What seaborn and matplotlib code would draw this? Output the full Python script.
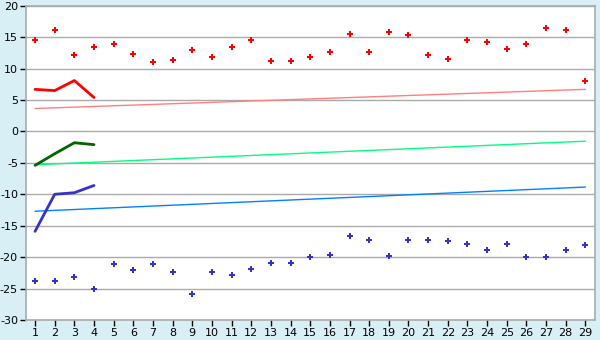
import matplotlib
matplotlib.use("Agg")
import matplotlib.pyplot as plt
import seaborn as sns
import numpy as np
import pandas as pd

days = list(range(1, 30))
red_points = [14.6, 16.2, 12.1, 13.4, 13.85, 12.3, 11.0, 11.3, 12.9, 11.8, 13.4, 14.6, 11.15, 11.15,
              11.8, 12.6, 15.45, 12.6, 15.8, 15.3, 12.1, 11.5, 14.6, 14.2, 13.05, 13.85, 16.4, 16.1, 8.1]
blue_points = [-23.85, -23.85, -23.2, -25.1, -21.15, -22.1, -21.15, -22.4, -25.9, -22.4, -22.9, -21.9, -21.0, -21.0,
               -20.0, -19.7, -16.7, -17.2, -19.85, -17.2, -17.2, -17.5, -17.95, -18.9, -17.95, -20.0, -20.0, -18.9, -18.1]
short_days = [1, 2, 3, 4]
red_line = [6.7, 6.5, 8.1, 5.4]
green_line = [-5.4, -3.55, -1.8, -2.1]
blue_line = [-15.9, -10.0, -9.75, -8.6]
trend_days = [1, 29]
red_trend = [3.65, 6.7]
green_trend = [-5.3, -1.55]
blue_trend = [-12.7, -8.85]
y_ticks = list(range(-30, 25, 5))

sns.set_theme(style="white")
plt.rcParams['font.family'] = ['DejaVu Sans']

fig = plt.figure(figsize=(6, 3.4), dpi=100, facecolor="#d9eff6")
ax = fig.add_axes([0.044, 0.059, 0.948, 0.924])
ax.set_facecolor("white")

for yv in y_ticks:
    ax.axhline(yv, color="#aaaaaa", lw=1, zorder=0)

sns.lineplot(x=trend_days, y=red_trend, ax=ax, color="#ff7f7f", lw=1)
sns.lineplot(x=trend_days, y=green_trend, ax=ax, color="#00ff7f", lw=1)
sns.lineplot(x=trend_days, y=blue_trend, ax=ax, color="#0080ff", lw=1)

sns.lineplot(x=short_days, y=red_line, ax=ax, color="#ff0000", lw=2)
sns.lineplot(x=short_days, y=green_line, ax=ax, color="#006400", lw=2)
sns.lineplot(x=short_days, y=blue_line, ax=ax, color="#3333cc", lw=2)

sns.scatterplot(x=days, y=red_points, ax=ax, color="#ff0000", marker="P", s=18, linewidth=0)
sns.scatterplot(x=days, y=blue_points, ax=ax, color="#3333cc", marker="P", s=18, linewidth=0)

ax.set_xlim(0.56, 29.5)
ax.set_ylim(-30, 20)
ax.set_xticks(days)
ax.set_xticklabels([str(d) for d in days])
ax.set_yticks(y_ticks)
ax.set_yticklabels([str(v) for v in y_ticks])
ax.tick_params(axis="both", which="both", direction="out", length=4, width=1, color="black",
               labelsize=8, labelcolor="black", pad=2)
ax.tick_params(axis="both", bottom=True, left=True)
for sp in ax.spines.values():
    sp.set_color("#aaaaaa")
    sp.set_linewidth(1.2)
ax.set_xlabel("")
ax.set_ylabel("")

fig.savefig("out.png", dpi=100, facecolor=fig.get_facecolor())
